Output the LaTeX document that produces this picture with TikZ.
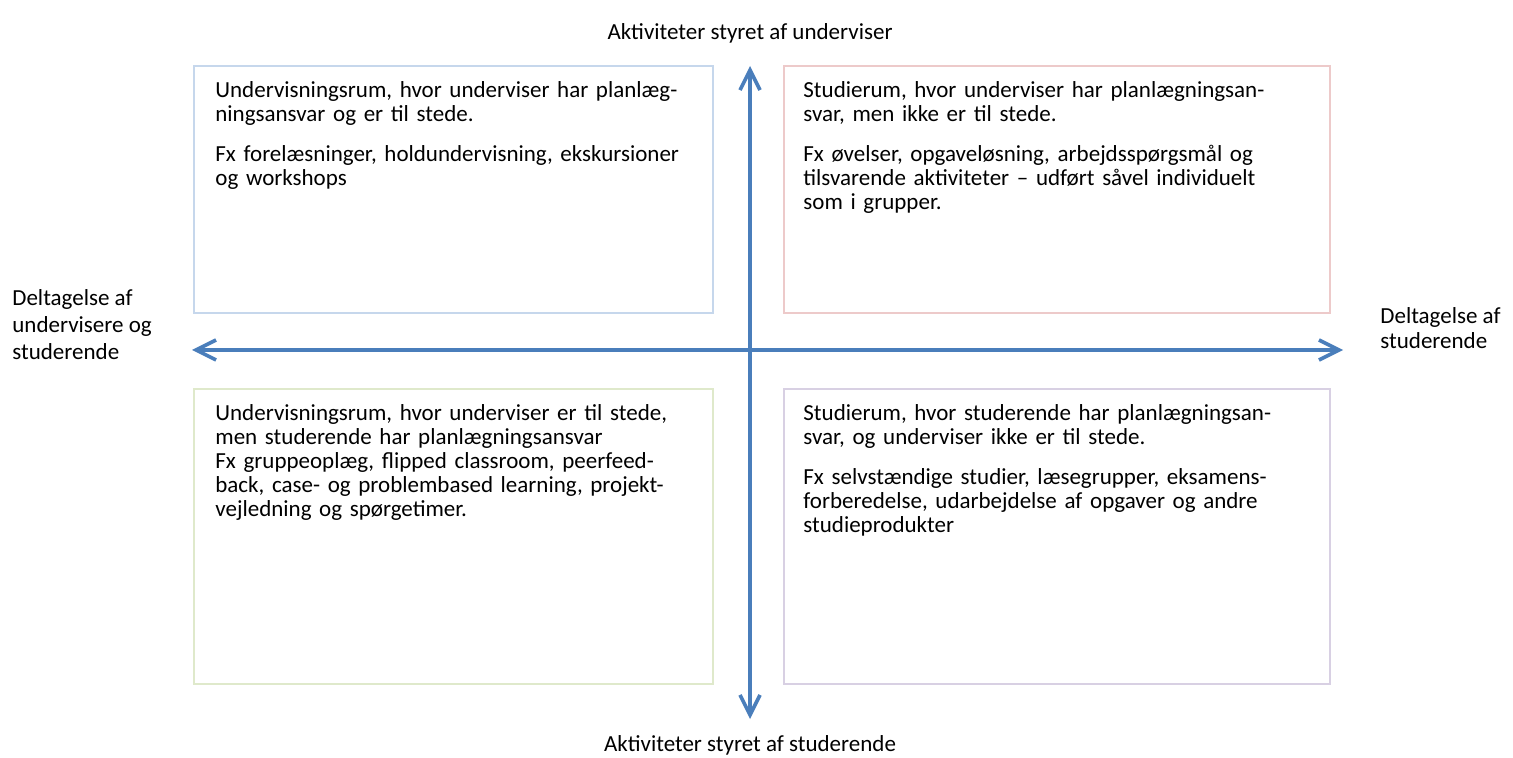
\documentclass[tikz,border=0pt]{standalone}
\usepackage{fontspec}
\setmainfont{Carlito}
\usepackage{xcolor}
\usetikzlibrary{arrows.meta, positioning, calc}

\definecolor{axisblue}{HTML}{4A7EBB}
\definecolor{tlcol}{HTML}{C6D7EC}
\definecolor{trcol}{HTML}{EDCACA}
\definecolor{blcol}{HTML}{DFE9CB}
\definecolor{brcol}{HTML}{D8D0E3}

\begin{document}
\begin{tikzpicture}[
            x=0.5pt, y=-0.5pt,
            >={Straight Barb[length=10pt,width=10pt]},
            font=\fontsize{11.5pt}{12pt}\selectfont,
            quad/.style={
				rectangle,
				anchor=north west,
				line width=0.9pt,
				inner sep=0pt
			},
            leftquad/.style={
				quad,
				minimum width=259.5pt
			},
            rightquad/.style={
				quad,
				minimum width=273pt
			},
            boxtext/.style={
				align=left,
				inner sep=0pt,
				text width=255pt
			},
            axislabel/.style={
				align=left,
				inner sep=0pt
			},
            axis/.style={
				<->,
				line width=1.8pt,
				draw=axisblue
			}
        ]

        \useasboundingbox (0,0) rectangle (1513,758);

        % the four quadrants
        \node (tlbox) [leftquad, draw=tlcol, minimum height=123.5pt] at (193,65) {};
        \node (trbox) [rightquad, draw=trcol, minimum height=123.5pt] at (783,65) {};
        \node (blbox) [leftquad, draw=blcol, minimum height=147.5pt] at (193,388) {};
        \node (brbox) [rightquad, draw=brcol, minimum height=147.5pt] at (783,388) {};

        \node (tltext) [boxtext, below right=8pt and 11pt of tlbox.north west]
            {Undervisningsrum, hvor underviser har planlæg-\\
             ningsansvar og er til stede.\\[8pt]
             Fx forelæsninger, holdundervisning, ekskursioner\\
             og workshops};
        \node (trtext) [boxtext, below right=8pt and 10pt of trbox.north west]
            {Studierum, hvor underviser har planlægningsan-\\
             svar, men ikke er til stede.\\[8pt]
             Fx øvelser, opgaveløsning, arbejdsspørgsmål og\\
             tilsvarende aktiviteter – udført såvel individuelt\\
             som i grupper.};
        \node (bltext) [boxtext, below right=8pt and 11pt of blbox.north west]
            {Undervisningsrum, hvor underviser er til stede,\\
             men studerende har planlægningsansvar\\
             Fx gruppeoplæg, flipped classroom, peerfeed-\\
             back, case- og problembased learning, projekt-\\
             vejledning og spørgetimer.};
        \node (brtext) [boxtext, below right=8pt and 10pt of brbox.north west]
            {Studierum, hvor studerende har planlægningsan-\\
             svar, og underviser ikke er til stede.\\[8pt]
             Fx selvstændige studier, læsegrupper, eksamens-\\
             forberedelse, udarbejdelse af opgaver og andre\\
             studieprodukter};

        % axes
        \coordinate (top) at (750,66);
        \coordinate (bottom) at (750,719);
        \coordinate (west) at (192,350);
        \coordinate (east) at (1343,350);

        \draw [axis] (bottom) -- (top);
        \draw [axis] (west) -- (east);

        \node (toplabel) [axislabel, above=11pt of top] {Aktiviteter styret af underviser};
        \node (bottomlabel) [axislabel, below=8pt of bottom] {Aktiviteter styret af studerende};
        \node (westlabel) [axislabel, anchor=west] at (12,325)
            {Deltagelse af\\[1.5pt] undervisere og\\[1.5pt] studerende};
        \node (eastlabel) [axislabel, anchor=west] at (1380,328)
            {Deltagelse af\\[0.5pt] studerende};

        \end{tikzpicture}
\end{document}
